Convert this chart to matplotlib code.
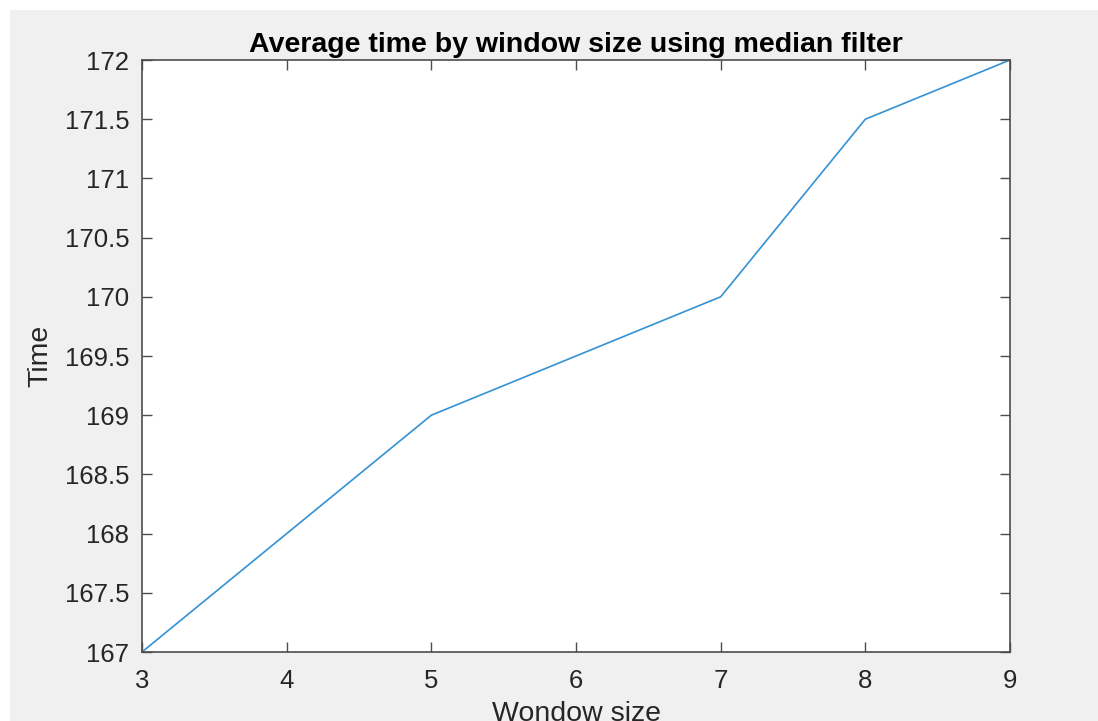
import numpy as np
import matplotlib
matplotlib.use("Agg")
import matplotlib.pyplot as plt
from matplotlib.patches import Rectangle
from matplotlib.ticker import FormatStrFormatter, MultipleLocator

window_size = [3, 5, 7, 8, 9]
avg_time = [167, 169, 170, 171.5, 172]

plt.rcParams['font.family'] = ['Liberation Sans', 'DejaVu Sans']

fig = plt.figure(figsize=(10.98, 7.21), dpi=100, facecolor='white')
# matlab-style grey figure area, with a thin white strip top/left
fig.patches.append(Rectangle((10 / 1098, 0), 1 - 10 / 1098, 1 - 10 / 721,
                             transform=fig.transFigure, facecolor='#f0f0f0',
                             edgecolor='none', zorder=-1))

ax = fig.add_axes([142 / 1098, 1 - 652 / 721, 868 / 1098, 592 / 721])
ax.plot(window_size, avg_time, color='#3392d4', linewidth=1.2)

ax.set_xlim(3, 9)
ax.set_ylim(167, 172)
ax.xaxis.set_major_locator(MultipleLocator(1))
ax.yaxis.set_major_locator(MultipleLocator(0.5))
ax.yaxis.set_major_formatter(FormatStrFormatter('%g'))

for s in ax.spines.values():
    s.set_color('#4d4d4d')
    s.set_linewidth(1.2)
ax.tick_params(direction='in', length=7, width=1, color='#4d4d4d',
               top=True, right=True, labelsize=18.5, labelcolor='#262626')
ax.tick_params(axis='x', pad=12)
ax.tick_params(axis='y', pad=9)

# xlabel is partly cut off at the bottom edge, same as the original screenshot
ax.set_title('Average time by window size using median filter', fontsize=20.5,
             fontweight='bold', pad=6)
ax.set_xlabel('Wondow size', fontsize=20.5, color='#262626', labelpad=6)
ax.set_ylabel('Time', fontsize=20.5, color='#262626', labelpad=8)

fig.savefig('out.png', dpi=100, facecolor=fig.get_facecolor())
